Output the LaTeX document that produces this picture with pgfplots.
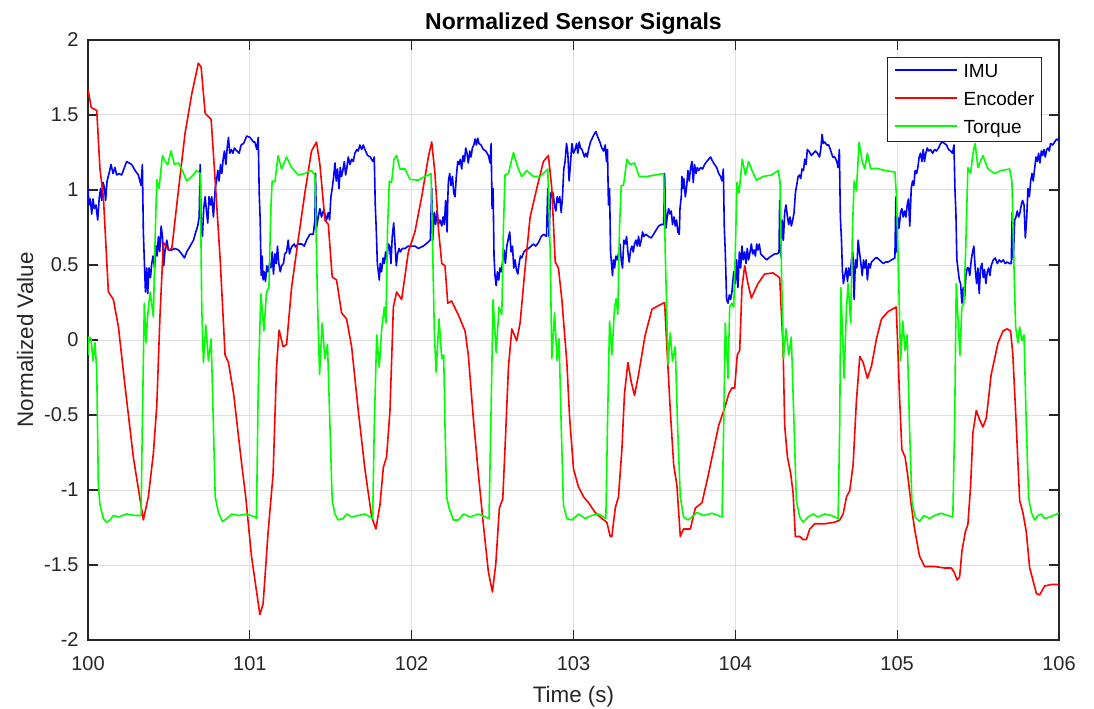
\documentclass[border=0pt]{standalone}
\usepackage{fontspec}
\setmainfont{Liberation Sans}
\usepackage{pgfplots}
\pgfplotsset{compat=1.18}

\definecolor{axgray}{RGB}{38,38,38}
\definecolor{gridgray}{RGB}{223,223,223}
\definecolor{imublue}{RGB}{0,0,255}
\definecolor{encred}{RGB}{255,0,0}
\definecolor{trqgreen}{RGB}{0,255,0}

\newcommand{\legline}[1]{\textcolor{#1}{\rule[3.2pt]{31pt}{0.8pt}}}

\begin{document}
\begin{tikzpicture}
\useasboundingbox (-44pt,-34pt) rectangle (503pt,320pt);
\begin{axis}[
  scale only axis,
  width=485.5pt, height=300pt,
  xmin=100, xmax=106, ymin=-2, ymax=2,
  xtick={100,101,102,103,104,105,106},
  ytick={-2,-1.5,-1,-0.5,0,0.5,1,1.5,2},
  /pgf/number format/assume math mode=true,
  tick label style={font=\fontsize{10}{12}\selectfont, color=axgray},
  xticklabel style={anchor=base, yshift=-15pt},
  yticklabel style={anchor=east, inner sep=0pt, xshift=-4.5pt},
  tick align=inside,
  major tick length=5pt,
  every tick/.style={axgray, line width=0.6pt},
  axis line style={axgray, line width=0.7pt},
  grid=major,
  major grid style={gridgray, line width=0.5pt},
  title={Normalized Sensor Signals},
  title style={at={(axis description cs:0.5,1.0167)}, anchor=base, yshift=-6pt, font=\bfseries\fontsize{11.5}{13}\selectfont},
  xlabel={Time (s)},
  xlabel style={at={(axis description cs:0.5,-0.105)}, anchor=base, font=\fontsize{11.2}{13}\selectfont, color=axgray},
  ylabel={Normalized Value},
  ylabel style={at={(axis description cs:-0.0566,0.5)}, anchor=base, rotate=0, font=\fontsize{11.2}{13}\selectfont, color=axgray},
  no markers,
  every axis plot/.append style={line width=0.8pt, line join=round},
]
% IMU
\addplot[imublue] coordinates {
(100.0,1.01)(100.006,0.90)(100.014,0.94)(100.023,0.84)(100.031,0.94)(100.039,0.876)(100.049,0.90)(100.06,0.80)(100.07,0.955)(100.078,1.01)(100.085,0.93)(100.093,1.05)(100.101,1.02)(100.109,0.93)(100.118,1.06)(100.13,1.11)(100.142,1.17)(100.155,1.11)(100.167,1.15)(100.177,1.10)(100.192,1.11)(100.208,1.10)(100.225,1.15)(100.239,1.19)(100.254,1.18)(100.27,1.17)(100.291,1.13)(100.311,1.10)(100.328,1.03)(100.336,1.17)(100.342,0.72)(100.348,0.53)(100.355,0.32)(100.363,0.48)(100.369,0.31)(100.377,0.48)(100.386,0.416)(100.394,0.51)(100.402,0.56)(100.412,0.48)(100.419,0.63)(100.427,0.56)(100.435,0.69)(100.443,0.59)(100.452,0.76)(100.46,0.69)(100.468,0.495)(100.476,0.60)(100.487,0.666)(100.497,0.60)(100.518,0.60)(100.538,0.61)(100.559,0.60)(100.579,0.574)(100.596,0.547)(100.61,0.587)(100.631,0.626)(100.652,0.666)(100.666,0.72)(100.678,0.76)(100.687,0.82)(100.693,1.17)(100.699,0.77)(100.707,0.69)(100.715,0.876)(100.724,0.955)(100.732,0.86)(100.74,0.78)(100.748,0.955)(100.757,0.90)(100.765,0.955)(100.775,0.82)(100.786,1.01)(100.794,1.06)(100.802,1.13)(100.81,1.06)(100.819,1.17)(100.827,1.11)(100.835,1.205)(100.843,1.26)(100.852,1.17)(100.86,1.28)(100.868,1.35)(100.876,1.245)(100.885,1.27)(100.895,1.245)(100.905,1.28)(100.92,1.26)(100.934,1.245)(100.946,1.30)(100.961,1.31)(100.981,1.36)(101.002,1.35)(101.023,1.32)
(101.031,1.32)(101.043,1.27)(101.052,1.35)(101.058,0.98)(101.064,0.80)(101.07,0.43)(101.076,0.56)(101.082,0.40)(101.089,0.455)(101.097,0.39)(101.105,0.495)(101.113,0.455)(101.122,0.51)(101.13,0.48)(101.138,0.587)(101.146,0.44)(101.155,0.574)(101.163,0.51)(101.171,0.626)(101.179,0.51)(101.188,0.455)(101.196,0.495)(101.208,0.51)(101.216,0.574)(101.227,0.587)(101.237,0.666)(101.245,0.574)(101.254,0.61)(101.262,0.626)(101.274,0.64)(101.282,0.62)(101.299,0.64)(101.32,0.64)(101.336,0.626)(101.351,0.666)(101.371,0.705)(101.392,0.705)(101.402,0.80)(101.406,1.11)(101.412,0.745)(101.423,0.82)(101.433,0.876)(101.443,0.82)(101.454,0.86)(101.464,0.84)(101.474,0.80)(101.485,0.85)(101.493,0.80)(101.501,0.955)(101.509,1.01)(101.518,1.09)(101.526,1.18)(101.534,1.06)(101.542,1.14)(101.551,1.01)(101.559,1.15)(101.567,1.09)(101.575,1.13)(101.584,1.19)(101.592,1.10)(101.6,1.15)(101.608,1.22)(101.619,1.17)(101.629,1.205)(101.639,1.19)(101.649,1.245)(101.662,1.27)(101.67,1.26)(101.68,1.30)(101.691,1.27)(101.701,1.30)(101.711,1.27)(101.728,1.23)(101.744,1.22)(101.761,1.19)(101.769,1.22)(101.775,0.90)(101.781,0.745)(101.788,0.51)(101.794,0.455)(101.8,0.40)(101.806,0.51)(101.814,0.455)(101.823,0.547)(101.831,0.51)(101.839,0.587)(101.847,0.534)(101.856,0.64)(101.864,0.626)(101.872,0.51)(101.88,0.69)(101.889,0.78)(101.897,0.64)(101.905,0.495)(101.913,0.574)(101.922,0.61)(101.93,0.587)(101.942,0.61)(101.959,0.61)(101.979,0.626)(102.01,0.626)
(102.021,0.626)(102.041,0.61)(102.072,0.626)(102.099,0.65)(102.115,0.666)(102.124,1.01)(102.13,0.666)(102.14,0.85)(102.148,0.77)(102.157,0.86)(102.165,0.77)(102.175,0.80)(102.186,0.76)(102.194,0.82)(102.202,0.77)(102.21,0.93)(102.219,0.72)(102.223,0.93)(102.227,1.06)(102.235,1.11)(102.243,1.03)(102.252,1.09)(102.26,0.98)(102.268,0.955)(102.276,1.09)(102.285,1.19)(102.293,1.17)(102.301,1.205)(102.309,1.14)(102.318,1.23)(102.326,1.19)(102.334,1.28)(102.342,1.245)(102.35,1.18)(102.359,1.26)(102.367,1.22)(102.375,1.28)(102.384,1.30)(102.392,1.34)(102.4,1.30)(102.408,1.345)(102.416,1.31)(102.429,1.30)(102.443,1.27)(102.458,1.26)(102.474,1.23)(102.485,1.18)(102.491,1.31)(102.497,0.876)(102.503,1.01)(102.509,0.56)(102.515,0.43)(102.522,0.363)(102.53,0.455)(102.538,0.40)(102.546,0.48)(102.555,0.455)(102.563,0.534)(102.571,0.60)(102.579,0.51)(102.588,0.626)(102.598,0.68)(102.606,0.72)(102.614,0.587)(102.623,0.626)(102.631,0.48)(102.639,0.534)(102.647,0.47)(102.656,0.44)(102.664,0.51)(102.672,0.56)(102.68,0.547)(102.693,0.587)(102.705,0.60)(102.722,0.61)(102.738,0.626)(102.753,0.64)(102.767,0.626)(102.784,0.65)(102.8,0.69)(102.816,0.705)(102.833,0.69)(102.841,1.01)(102.849,0.69)(102.858,0.98)(102.866,0.955)(102.874,0.98)(102.882,0.90)(102.891,0.86)(102.899,0.955)(102.907,0.916)(102.915,0.955)(102.924,0.85)(102.932,0.955)(102.94,1.14)(102.948,1.19)(102.957,1.31)(102.965,1.245)(102.973,1.06)(102.981,1.17)(102.99,1.31)(103.0,1.245)
(103.01,1.27)(103.019,1.31)(103.027,1.245)(103.035,1.32)(103.043,1.28)(103.052,1.27)(103.06,1.245)(103.068,1.22)(103.076,1.245)(103.085,1.22)(103.093,1.27)(103.105,1.32)(103.118,1.35)(103.13,1.376)(103.138,1.39)(103.151,1.35)(103.163,1.32)(103.175,1.28)(103.186,1.26)(103.196,1.30)(103.204,1.19)(103.21,1.27)(103.216,0.90)(103.223,1.01)(103.229,0.587)(103.235,0.51)(103.241,0.43)(103.247,0.534)(103.254,0.48)(103.262,0.56)(103.27,0.534)(103.278,0.574)(103.287,0.64)(103.295,0.534)(103.303,0.48)(103.311,0.666)(103.32,0.64)(103.328,0.69)(103.336,0.587)(103.344,0.52)(103.353,0.60)(103.361,0.626)(103.369,0.587)(103.377,0.64)(103.386,0.666)(103.394,0.626)(103.402,0.69)(103.41,0.626)(103.419,0.666)(103.427,0.72)(103.435,0.69)(103.447,0.705)(103.464,0.69)(103.48,0.68)(103.495,0.705)(103.509,0.73)(103.526,0.76)(103.542,0.77)(103.557,0.77)(103.563,1.11)(103.571,0.745)(103.579,0.82)(103.588,0.876)(103.596,0.84)(103.604,0.86)(103.612,0.77)(103.621,0.82)(103.629,0.76)(103.637,0.80)(103.645,0.72)(103.654,0.705)(103.658,0.876)(103.666,0.955)(103.67,1.09)(103.676,1.01)(103.682,1.076)(103.691,0.955)(103.699,1.02)(103.707,1.13)(103.715,1.06)(103.724,1.15)(103.732,1.19)(103.74,1.05)(103.748,1.17)(103.757,1.11)(103.765,1.15)(103.773,1.13)(103.786,1.15)(103.798,1.14)(103.81,1.17)(103.823,1.19)(103.835,1.205)(103.847,1.22)(103.86,1.19)(103.872,1.17)(103.885,1.15)(103.897,1.11)(103.909,1.09)(103.918,1.06)(103.926,1.14)(103.932,0.745)(103.938,0.587)(103.946,0.27)(103.955,0.245)(103.963,0.30)(103.971,0.27)(103.979,0.32)(103.99,0.455)
(104.0,0.376)(104.008,0.534)(104.016,0.35)(104.025,0.587)(104.033,0.48)(104.041,0.626)(104.049,0.534)(104.058,0.587)(104.066,0.51)(104.074,0.61)(104.082,0.534)(104.091,0.587)(104.099,0.64)(104.107,0.574)(104.115,0.60)(104.124,0.56)(104.132,0.64)(104.14,0.60)(104.148,0.64)(104.157,0.574)(104.169,0.56)(104.181,0.547)(104.194,0.534)(104.206,0.547)(104.223,0.56)(104.243,0.574)(104.26,0.574)(104.27,0.587)(104.274,0.93)(104.28,0.56)(104.289,0.80)(104.297,0.666)(104.305,0.85)(104.313,0.90)(104.322,0.82)(104.33,0.77)(104.338,0.82)(104.346,0.76)(104.355,0.80)(104.363,0.85)(104.371,0.98)(104.379,1.03)(104.388,1.09)(104.396,1.10)(104.404,1.076)(104.412,1.14)(104.421,1.13)(104.429,1.205)(104.437,1.17)(104.445,1.27)(104.454,1.26)(104.462,1.245)(104.47,1.23)(104.482,1.245)(104.495,1.26)(104.507,1.245)(104.52,1.22)(104.528,1.27)(104.536,1.37)(104.544,1.31)(104.553,1.32)(104.565,1.30)(104.577,1.30)(104.59,1.26)(104.602,1.22)(104.614,1.22)(104.627,1.19)(104.635,1.15)(104.643,1.27)(104.649,0.82)(104.656,0.666)(104.662,0.455)(104.668,0.376)(104.676,0.43)(104.685,0.48)(104.693,0.39)(104.701,0.48)(104.709,0.43)(104.718,0.534)(104.726,0.587)(104.734,0.27)(104.742,0.534)(104.751,0.48)(104.759,0.666)(104.767,0.587)(104.775,0.52)(104.784,0.43)(104.792,0.534)(104.8,0.48)(104.808,0.534)(104.816,0.40)(104.825,0.51)(104.833,0.48)(104.841,0.52)(104.854,0.534)(104.866,0.547)(104.878,0.547)(104.891,0.534)(104.903,0.52)(104.915,0.51)(104.928,0.52)(104.944,0.52)(104.965,0.534)(104.986,0.547)
(104.992,0.955)(104.998,0.587)(105.004,0.82)(105.012,0.745)(105.021,0.85)(105.029,0.876)(105.037,0.82)(105.045,0.86)(105.054,0.82)(105.062,0.90)(105.07,0.94)(105.078,0.76)(105.087,1.01)(105.095,1.06)(105.103,1.03)(105.111,1.13)(105.12,1.11)(105.128,1.15)(105.136,1.22)(105.144,1.245)(105.153,1.19)(105.161,1.27)(105.169,1.19)(105.177,1.245)(105.186,1.28)(105.194,1.26)(105.206,1.27)(105.219,1.245)(105.231,1.27)(105.243,1.26)(105.256,1.28)(105.268,1.31)(105.28,1.32)(105.293,1.31)(105.305,1.30)(105.318,1.27)(105.33,1.26)(105.342,1.245)(105.351,1.30)(105.357,1.01)(105.363,0.85)(105.369,0.534)(105.375,0.48)(105.384,0.40)(105.392,0.376)(105.4,0.245)(105.408,0.35)(105.416,0.27)(105.425,0.43)(105.433,0.48)(105.441,0.48)(105.449,0.43)(105.458,0.534)(105.466,0.587)(105.474,0.626)(105.482,0.48)(105.491,0.376)(105.499,0.48)(105.507,0.31)(105.515,0.48)(105.524,0.51)(105.532,0.416)(105.54,0.47)(105.548,0.376)(105.557,0.455)(105.565,0.48)(105.573,0.43)(105.581,0.495)(105.594,0.534)(105.606,0.547)(105.619,0.51)(105.631,0.534)(105.643,0.52)(105.656,0.534)(105.668,0.51)(105.68,0.52)(105.693,0.51)(105.705,0.51)(105.711,0.85)(105.718,0.534)(105.726,0.80)(105.734,0.82)(105.742,0.86)(105.751,0.82)(105.759,0.85)(105.767,0.90)(105.775,0.93)(105.784,0.90)(105.792,0.68)(105.8,0.80)(105.808,1.01)(105.817,0.955)(105.825,1.06)(105.833,1.11)(105.841,1.06)(105.849,1.14)(105.858,1.22)(105.866,1.19)(105.874,1.245)(105.882,1.18)(105.891,1.26)(105.899,1.23)(105.907,1.27)(105.915,1.22)(105.924,1.27)(105.932,1.28)(105.94,1.26)(105.948,1.31)(105.961,1.30)(105.973,1.32)(105.986,1.34)(106.0,1.33)
};
% Encoder
\addplot[encred] coordinates {
(100.0,1.67)(100.02,1.55)(100.054,1.53)(100.074,1.14)(100.095,0.955)(100.126,0.32)(100.157,0.27)(100.188,0.087)(100.229,-0.31)(100.28,-0.78)(100.342,-1.20)(100.373,-1.045)(100.404,-0.755)(100.425,-0.44)(100.445,0.166)(100.466,0.65)(100.497,0.60)(100.518,0.61)(100.56,1.01)(100.6,1.38)(100.641,1.64)(100.682,1.845)(100.699,1.82)(100.724,1.51)(100.761,1.47)(100.786,1.06)(100.817,0.53)(100.847,-0.1)(100.868,-0.15)(100.9,-0.36)(100.95,-0.83)(100.975,-1.05)(101.01,-1.44)(101.062,-1.83)(101.082,-1.76)(101.113,-1.28)(101.144,-0.89)(101.165,-0.18)(101.181,0.066)(101.206,-0.045)(101.227,-0.03)(101.258,0.35)(101.299,0.67)(101.34,0.98)(101.381,1.26)(101.412,1.32)(101.433,1.17)(101.464,0.80)(101.485,0.77)(101.509,0.42)(101.536,0.40)(101.567,0.18)(101.598,0.14)(101.629,-0.045)(101.67,-0.47)(101.711,-0.86)(101.753,-1.18)(101.779,-1.26)(101.804,-1.10)(101.825,-0.85)(101.845,-0.78)(101.866,-0.47)(101.887,0.22)(101.907,0.32)(101.938,0.27)(101.98,0.59)(102.02,0.72)(102.062,0.955)(102.103,1.22)(102.124,1.32)(102.144,1.11)(102.165,0.745)(102.186,0.51)(102.206,0.495)(102.223,0.245)(102.247,0.26)(102.289,0.166)(102.33,0.06)(102.35,-0.1)(102.381,-0.52)(102.412,-0.89)(102.443,-1.23)(102.474,-1.545)(102.499,-1.68)(102.52,-1.49)(102.542,-1.12)(102.563,-1.06)(102.581,-0.62)(102.598,-0.18)(102.619,0.074)(102.649,-0.005)(102.67,0.113)(102.701,0.48)(102.732,0.82)(102.773,1.01)(102.814,1.19)(102.845,1.23)(102.866,1.01)(102.887,0.52)(102.907,0.48)(102.928,0.27)(102.959,-0.15)(102.975,-0.5)(103.0,-0.86)(103.031,-0.98)(103.062,-1.045)(103.093,-1.085)(103.134,-1.15)(103.175,-1.19)(103.206,-1.215)(103.227,-1.31)(103.237,-1.31)(103.258,-1.12)(103.278,-1.045)(103.299,-0.73)(103.315,-0.36)(103.336,-0.15)(103.357,-0.28)(103.377,-0.37)(103.402,-0.23)(103.443,0.034)(103.485,0.205)(103.526,0.23)(103.563,0.25)(103.577,-0.045)(103.598,-0.47)(103.619,-0.83)(103.639,-0.97)(103.66,-1.31)(103.68,-1.26)(103.722,-1.26)(103.753,-1.12)(103.794,-1.085)(103.835,-0.89)(103.897,-0.57)(103.938,-0.44)(103.959,-0.36)(103.979,-0.32)(103.996,-0.32)(104.012,-0.1)(104.027,-0.07)(104.041,0.35)(104.058,0.495)(104.078,0.376)(104.099,0.28)(104.14,0.376)(104.181,0.44)(104.233,0.447)(104.274,0.416)(104.295,-0.045)(104.305,-0.57)(104.322,-0.78)(104.342,-0.89)(104.357,-1.02)(104.371,-1.31)(104.398,-1.31)(104.419,-1.33)(104.439,-1.33)(104.46,-1.26)(104.491,-1.225)(104.553,-1.225)(104.614,-1.215)(104.645,-1.20)(104.666,-1.16)(104.687,-1.045)(104.707,-1.005)(104.728,-0.83)(104.748,-0.41)(104.769,-0.11)(104.79,-0.15)(104.816,-0.255)(104.841,-0.176)(104.872,0.008)(104.903,0.14)(104.944,0.19)(104.994,0.22)(105.004,-0.045)(105.014,-0.36)(105.029,-0.73)(105.049,-0.78)(105.066,-0.91)(105.087,-1.10)(105.107,-1.255)(105.138,-1.44)(105.169,-1.51)(105.231,-1.51)(105.293,-1.52)(105.334,-1.52)(105.351,-1.545)(105.371,-1.60)(105.386,-1.58)(105.4,-1.41)(105.421,-1.28)(105.437,-1.23)(105.454,-0.97)(105.468,-0.62)(105.489,-0.47)(105.509,-0.53)(105.53,-0.58)(105.551,-0.52)(105.581,-0.23)(105.623,-0.02)(105.654,0.06)(105.68,0.074)(105.701,0.06)(105.715,-0.1)(105.736,-0.57)(105.757,-1.07)(105.777,-1.15)(105.798,-1.28)(105.819,-1.52)(105.839,-1.60)(105.86,-1.69)(105.88,-1.70)(105.911,-1.64)(105.953,-1.63)(106.0,-1.63)
};
% Torque
\addplot[trqgreen] coordinates {
(100.0,-0.10)(100.006,0.02)(100.019,0.008)(100.031,-0.14)(100.043,-0.018)(100.054,-0.20)(100.064,-0.97)(100.074,-1.10)(100.095,-1.19)(100.115,-1.215)(100.136,-1.20)(100.157,-1.17)(100.188,-1.18)(100.239,-1.16)(100.291,-1.17)(100.328,-1.17)(100.336,-0.545)(100.348,0.245)(100.359,-0.018)(100.369,0.166)(100.384,0.32)(100.404,0.153)(100.414,0.64)(100.425,1.07)(100.439,1.01)(100.46,1.23)(100.476,1.19)(100.493,1.17)(100.513,1.26)(100.534,1.17)(100.559,1.18)(100.579,1.14)(100.61,1.06)(100.641,1.09)(100.672,1.13)(100.693,1.11)(100.703,0.22)(100.713,-0.15)(100.728,0.10)(100.744,-0.14)(100.761,0.008)(100.775,-0.57)(100.786,-1.045)(100.806,-1.15)(100.831,-1.21)(100.858,-1.19)(100.889,-1.16)(100.93,-1.17)(100.981,-1.16)(101.033,-1.18)
(101.041,-1.19)(101.052,-0.31)(101.068,0.31)(101.087,0.06)(101.103,0.32)(101.118,0.35)(101.13,0.876)(101.138,1.06)(101.155,1.055)(101.175,1.23)(101.196,1.14)(101.227,1.22)(101.258,1.15)(101.299,1.10)(101.34,1.11)(101.381,1.13)(101.402,1.10)(101.419,0.22)(101.431,-0.23)(101.447,0.113)(101.464,-0.124)(101.48,-0.03)(101.495,-0.57)(101.509,-1.07)(101.526,-1.16)(101.546,-1.20)(101.577,-1.19)(101.598,-1.16)(101.629,-1.18)(101.67,-1.17)(101.711,-1.16)(101.759,-1.19)(101.769,-0.57)(101.784,0.034)(101.8,-0.18)(101.814,0.06)(101.831,0.22)(101.841,0.113)(101.851,0.745)(101.862,1.06)(101.876,1.05)(101.891,1.205)(101.907,1.23)(101.928,1.14)(101.959,1.14)(101.99,1.07)
(102.041,1.066)(102.082,1.09)(102.12,1.11)(102.13,0.59)(102.14,0.06)(102.151,-0.216)(102.169,0.14)(102.186,-0.124)(102.198,-0.1)(102.206,-0.57)(102.216,-1.045)(102.231,-1.12)(102.258,-1.20)(102.289,-1.20)(102.32,-1.16)(102.361,-1.18)(102.412,-1.16)(102.478,-1.19)(102.489,-0.57)(102.503,0.27)(102.522,-0.084)(102.54,0.22)(102.557,0.17)(102.567,0.745)(102.577,1.10)(102.598,1.11)(102.629,1.25)(102.656,1.15)(102.68,1.09)(102.711,1.13)(102.753,1.09)(102.794,1.09)(102.841,1.14)(102.856,0.59)(102.866,-0.124)(102.883,0.18)(102.899,-0.14)(102.911,0.008)(102.924,-0.57)(102.938,-1.10)(102.959,-1.19)(102.99,-1.20)
(103.031,-1.16)(103.072,-1.19)(103.113,-1.17)(103.155,-1.16)(103.2,-1.19)(103.21,-0.57)(103.223,0.126)(103.237,-0.1)(103.254,0.22)(103.264,0.276)(103.274,0.17)(103.284,0.745)(103.295,1.03)(103.309,1.03)(103.33,1.205)(103.35,1.17)(103.377,1.18)(103.406,1.09)(103.454,1.09)(103.505,1.10)(103.557,1.11)(103.567,0.59)(103.584,-0.16)(103.598,0.047)(103.612,-0.14)(103.629,-0.045)(103.643,-0.57)(103.66,-1.045)(103.68,-1.18)(103.707,-1.20)(103.732,-1.18)(103.763,-1.15)(103.804,-1.17)(103.856,-1.155)(103.918,-1.18)(103.928,-0.57)(103.938,0.113)(103.955,-0.255)
(103.965,0.22)(103.979,0.245)(103.99,0.22)(104.0,0.59)(104.01,1.05)(104.023,0.98)(104.043,1.205)(104.062,1.10)(104.082,1.19)(104.103,1.13)(104.13,1.066)(104.171,1.09)(104.223,1.10)(104.264,1.13)(104.276,1.06)(104.285,0.48)(104.297,-0.124)(104.313,0.074)(104.33,-0.1)(104.346,0.02)(104.363,-0.57)(104.377,-1.07)(104.398,-1.18)(104.419,-1.215)(104.449,-1.18)(104.48,-1.16)(104.511,-1.18)(104.553,-1.16)(104.594,-1.17)(104.635,-1.19)(104.645,-0.57)(104.652,0.35)(104.662,0.06)(104.672,-0.255)(104.687,0.22)(104.697,0.376)(104.713,0.113)(104.724,0.745)(104.734,1.06)(104.748,0.995)(104.765,1.32)(104.784,1.19)(104.8,1.14)(104.816,1.245)(104.837,1.14)(104.872,1.145)(104.924,1.13)(104.986,1.12)
(104.996,0.955)(105.008,0.48)(105.021,-0.14)(105.035,0.126)(105.049,-0.07)(105.062,0.034)(105.076,-0.57)(105.091,-1.07)(105.111,-1.18)(105.138,-1.21)(105.165,-1.17)(105.2,-1.19)(105.231,-1.17)(105.272,-1.155)(105.313,-1.17)(105.344,-1.18)(105.355,-0.57)(105.365,0.376)(105.375,0.166)(105.388,-0.1)(105.4,0.22)(105.412,0.245)(105.423,0.59)(105.437,1.15)(105.454,1.11)(105.468,1.245)(105.482,1.31)(105.499,1.15)(105.53,1.23)(105.561,1.14)(105.602,1.11)(105.643,1.13)(105.695,1.14)(105.709,1.06)(105.722,0.48)(105.732,0.087)(105.746,-0.018)(105.757,0.087)(105.771,-0.005)(105.784,0.034)(105.798,-0.57)(105.812,-1.045)(105.829,-1.15)(105.849,-1.20)(105.87,-1.17)(105.891,-1.16)(105.911,-1.19)(105.942,-1.18)(106.0,-1.155)
};
% legend
\node[draw=axgray, line width=0.6pt, fill=white, anchor=north east, inner xsep=3.5pt, inner ysep=0pt,
  xshift=-8.5pt, yshift=-8.5pt, font=\fontsize{9.5}{14}\selectfont] at (rel axis cs:1,1)
  {\begin{tabular}{@{}l@{\hspace{3.5pt}}l@{}}
   \legline{imublue} & IMU\\
   \legline{encred} & Encoder\\
   \legline{trqgreen} & Torque
   \end{tabular}};
\end{axis}
\end{tikzpicture}
\end{document}
